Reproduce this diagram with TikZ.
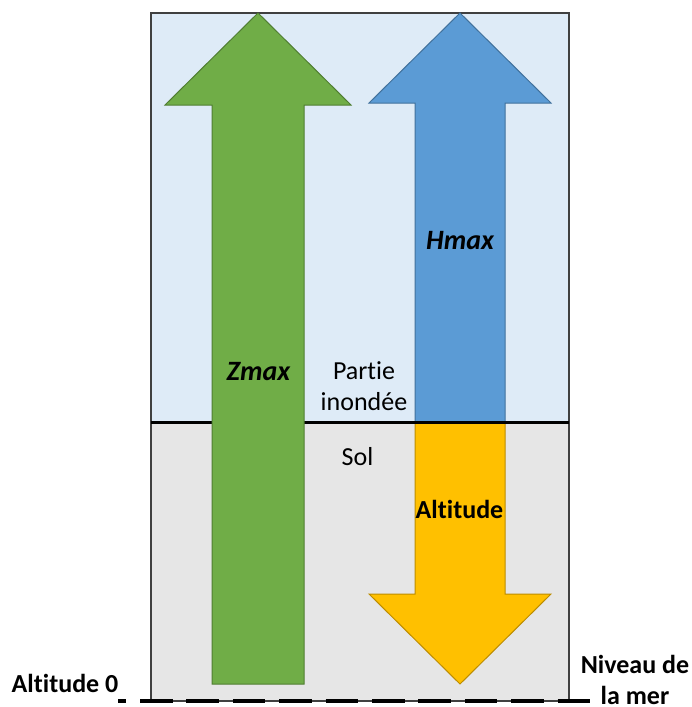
\documentclass[tikz,border=0pt]{standalone}
\usepackage{fontspec}
\setmainfont[Ligatures=NoCommon]{Carlito}
\definecolor{skyband}{HTML}{DEEBF7}
\definecolor{soilband}{HTML}{E6E6E6}
\definecolor{zgreen}{HTML}{70AD47}
\definecolor{zgreenb}{HTML}{507E32}
\definecolor{hblue}{HTML}{5B9BD5}
\definecolor{hblueb}{HTML}{41719C}
\definecolor{aorange}{HTML}{FFC000}
\definecolor{aorangeb}{HTML}{BC8C00}
\tikzset{
  lbl/.style={inner sep=0pt, align=center, font=\fontsize{26}{31}\selectfont},
  blbl/.style={lbl, font=\fontsize{26}{31}\selectfont\bfseries},
  bilbl/.style={lbl, font=\fontsize{28}{31}\selectfont\bfseries\itshape},
  arrowshape/.style={line width=1pt, line join=miter}
}
\begin{document}
\begin{tikzpicture}[x=1pt,y=-1pt]
\useasboundingbox (0,0) rectangle (692,707);
% bands
\fill[skyband] (151,13) rectangle (569,422);
\fill[soilband] (151,422) rectangle (569,701);
\draw[line width=1.4pt, black!75] (151,701) -- (151,13) -- (569,13) -- (569,701) -- cycle;
% blue arrow (Hmax)
\filldraw[arrowshape, fill=hblue, draw=hblueb] (460,13) -- (551,103) -- (505,103) -- (505,422) -- (415,422) -- (415,103) -- (369,103) -- cycle;
% orange arrow (Altitude)
\filldraw[arrowshape, fill=aorange, draw=aorangeb] (460,684) -- (551,594) -- (505,594) -- (505,422) -- (415,422) -- (415,594) -- (369,594) -- cycle;
% ground line
\draw[line width=3pt, black] (151,422) -- (569,422);
% green arrow (Zmax)
\filldraw[arrowshape, fill=zgreen, draw=zgreenb] (258,13) -- (351,105) -- (304,105) -- (304,684) -- (212,684) -- (212,105) -- (165,105) -- cycle;
% sea level dashed line
\coordinate (seaL) at (118,701);
\coordinate (seaR) at (590.5,701);
\draw[line width=4pt, black, dash pattern=on 32.5pt off 13.9pt, dash phase=24.4pt] (seaL) -- (seaR);
% labels
\node[bilbl] (zmax) at (258.5,371.5) {Zmax};
\node[bilbl] (hmax) at (460,240.5) {Hmax};
\node[blbl] (alt) at (459.5,509) {Altitude};
\node[lbl] (sol) at (357.5,456.5) {Sol};
\node[lbl, anchor=base] (part) at (364,410) {Partie\\inondée};
\node[blbl, anchor=base] (alt0) at (65,692) {Altitude 0};
\node[blbl, anchor=base] (niv) at (635,704) {Niveau de\\la mer};
\end{tikzpicture}
\end{document}
